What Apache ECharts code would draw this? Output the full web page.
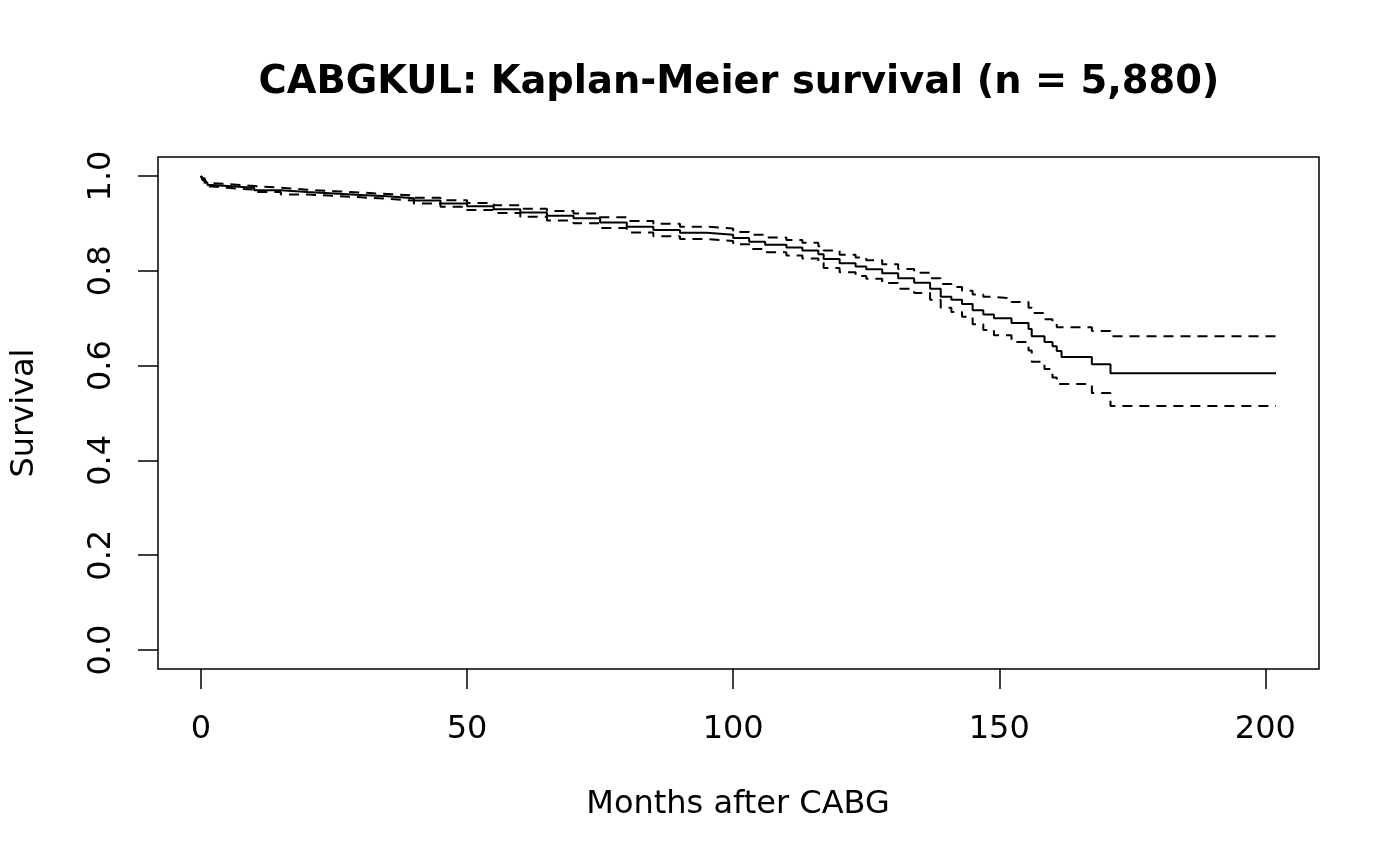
<!DOCTYPE html>
<html>
<head>
<meta charset="utf-8">
<script src="https://cdn.jsdelivr.net/npm/echarts@6/dist/echarts.min.js"></script>
<style>
html,body{margin:0;padding:0;background:#fff;}
#chart{width:1400px;height:866px;}
</style>
</head>
<body>
<div id="chart"></div>
<script>
const months = [0,0.3,0.7,1.2,2,5,10,15,20,25,30,35,40,45,50,55,60,65,70,75,80,85,90,95,100,103,106,110,113,116,117,120,123,125,128,131,134,137,139,141,143,145,147,149,152.3,155.5,156.1,158.5,160,160.8,161.7,167.4,170.9,202];
const survival = [1.0,0.993,0.986,0.981,0.979,0.975,0.970,0.966,0.963,0.960,0.957,0.953,0.948,0.942,0.936,0.930,0.923,0.916,0.911,0.902,0.893,0.886,0.880,0.876,0.869,0.861,0.855,0.849,0.843,0.835,0.825,0.816,0.809,0.803,0.795,0.784,0.775,0.762,0.745,0.739,0.730,0.717,0.708,0.700,0.690,0.677,0.662,0.650,0.641,0.631,0.618,0.603,0.584,0.584];
const upperCI = [1.0,0.995,0.989,0.985,0.983,0.979,0.975,0.971,0.968,0.965,0.962,0.959,0.954,0.949,0.943,0.938,0.931,0.926,0.921,0.913,0.905,0.899,0.893,0.889,0.882,0.876,0.870,0.865,0.859,0.852,0.843,0.834,0.828,0.822,0.814,0.804,0.796,0.784,0.772,0.766,0.758,0.750,0.745,0.742,0.734,0.722,0.711,0.698,0.690,0.681,0.681,0.673,0.662,0.662];
const lowerCI = [1.0,0.991,0.983,0.978,0.975,0.971,0.966,0.961,0.958,0.955,0.952,0.948,0.942,0.935,0.928,0.922,0.914,0.906,0.900,0.890,0.881,0.873,0.867,0.863,0.856,0.846,0.839,0.832,0.826,0.817,0.806,0.797,0.789,0.783,0.774,0.762,0.753,0.739,0.722,0.713,0.703,0.687,0.675,0.664,0.650,0.632,0.608,0.593,0.575,0.561,0.561,0.542,0.515,0.515];
const xTicks = [0,50,100,150,200];
const yTicks = [0,0.2,0.4,0.6,0.8,1.0];

const pair = (ys) => months.map((t,i)=>[t, ys[i]]);
const font = 'DejaVu Sans';
const chart = echarts.init(document.getElementById('chart'), null, {renderer:'canvas'});
chart.setOption({
  backgroundColor:'#fff',
  animation:false,
  title:{
    text:'CABGKUL: Kaplan-Meier survival (n = 5,880)',
    left:734, top:59, textAlign:'center',
    textStyle:{fontFamily:font, fontWeight:'bold', fontSize:38.4, color:'#000'}
  },
  grid:{left:158, right:81, top:157, bottom:197, show:true, borderColor:'#000', borderWidth:1.5, backgroundColor:'transparent'},
  xAxis:{
    type:'value', min:-8.08, max:210.08,
    axisLine:{show:false, onZero:false},
    splitLine:{show:false},
    axisTick:{show:true, length:20, inside:false, customValues:xTicks, lineStyle:{color:'#000', width:1.5}},
    axisLabel:{show:true, customValues:xTicks, margin:45, fontFamily:font, fontSize:32, color:'#000', formatter:(v)=>String(v)}
  },
  yAxis:{
    type:'value', min:-0.04, max:1.04,
    axisLine:{show:false, onZero:false},
    splitLine:{show:false},
    axisTick:{show:true, length:20, inside:false, customValues:yTicks, lineStyle:{color:'#000', width:1.5}},
    axisLabel:{show:true, customValues:yTicks, rotate:90, margin:40, fontFamily:font, fontSize:32, color:'#000', formatter:(v)=>v.toFixed(1)}
  },
  graphic:[
    {type:'text', x:738, y:805, style:{text:'Months after CABG', fontFamily:font, fontSize:32, fill:'#000', textAlign:'center', textVerticalAlign:'middle'}},
    {type:'text', x:25, y:413, rotation:Math.PI/2, style:{text:'Survival', fontFamily:font, fontSize:32, fill:'#000', textAlign:'center', textVerticalAlign:'middle'}}
  ],
  series:[
    {type:'line', step:'end', data:pair(survival), showSymbol:false, lineStyle:{color:'#000', width:2}},
    {type:'line', step:'end', data:pair(upperCI), showSymbol:false, lineStyle:{color:'#000', width:2, type:[10,7]}},
    {type:'line', step:'end', data:pair(lowerCI), showSymbol:false, lineStyle:{color:'#000', width:2, type:[10,7]}}
  ]
});
</script>
</body>
</html>
